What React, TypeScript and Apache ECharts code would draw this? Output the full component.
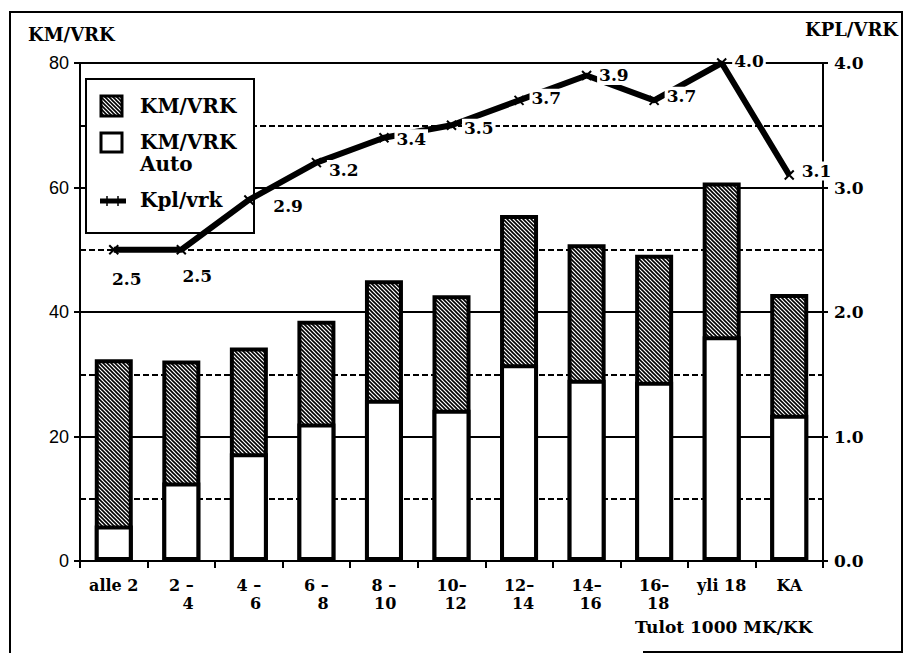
import React, { useEffect, useRef } from 'react';
import * as echarts from 'echarts';

// ---- data ----
const categories = ['alle 2', '2 –\n4', '4 –\n6', '6 –\n8', '8 –\n10', '10–\n12', '12–\n14', '14–\n16', '16–\n18', 'yli 18', 'KA'];
const kmVrkTotal = [32.4, 32.2, 34.3, 38.6, 45.1, 42.7, 55.6, 50.9, 49.2, 60.8, 42.9];
const kmVrkAuto = [5.7, 12.6, 17.3, 22.1, 25.9, 24.3, 31.6, 29.1, 28.8, 36.1, 23.5];
const kplVrk = [2.5, 2.5, 2.9, 3.2, 3.4, 3.5, 3.7, 3.9, 3.7, 4.0, 3.1];
const leftAxis = { min: 0, max: 80, interval: 20 };
const rightAxis = { min: 0, max: 4, interval: 1 };

const SERIF = 'DejaVu Serif';
const SANS = 'Liberation Sans';

function makeHatch(): HTMLCanvasElement {
  const s = 4;
  const c = document.createElement('canvas');
  c.width = s;
  c.height = s;
  const ctx = c.getContext('2d')!;
  ctx.fillStyle = '#fff';
  ctx.fillRect(0, 0, s, s);
  ctx.strokeStyle = '#000';
  ctx.lineWidth = 1.6;
  for (const k of [-s, 0, s]) {
    ctx.beginPath();
    ctx.moveTo(k - 1, -1);
    ctx.lineTo(k + s + 1, s + 1);
    ctx.stroke();
  }
  return c;
}

export default function App() {
  const ref = useRef<HTMLDivElement>(null);

  useEffect(() => {
    if (!ref.current) return;
    const chart = echarts.init(ref.current, undefined, { renderer: 'svg' });
    const hatchCanvas = makeHatch();
    const hatch: any = { image: hatchCanvas, repeat: 'repeat', imageWidth: 4, imageHeight: 4 };

    // label placement nudges for the line values (style only)
    const labelStyleFor = (i: number): any => {
      if (i === 0) return { position: 'bottom', distance: 14, offset: [13, 0] };
      if (i === 1) return { position: 'bottom', distance: 11, offset: [16, 0] };
      if (i === 2) return { position: 'right', distance: 5, offset: [12, 6] };
      const dy = [0, 0, 0, 7, 1, 3, -2, 0, -4, -2, -4][i];
      return { position: 'right', distance: 5, offset: [0, dy] };
    };
    const lineData = kplVrk.map((v, i) => ({ value: v, label: labelStyleFor(i) }));

    const textBase = { fontFamily: SERIF, fontWeight: 'bold', fill: '#000' } as any;
    const txt = (text: string, x: number, y: number, fontSize: number, align: string, z: number) => ({
      type: 'text', z, silent: true, x, y,
      style: { ...textBase, text, fontSize, align, verticalAlign: 'middle', textAlign: align, textVerticalAlign: 'middle' },
    });

    const option: any = {
      animation: false,
      backgroundColor: '#fff',
      grid: { left: 80, right: 81, top: 63, bottom: 93, containLabel: false },
      xAxis: {
        type: 'category',
        data: categories,
        boundaryGap: true,
        axisLine: { show: true, lineStyle: { color: '#000', width: 2 } },
        axisTick: { show: true, length: 7, lineStyle: { color: '#000', width: 2 } },
        axisLabel: {
          interval: 0,
          margin: 15,
          color: '#000',
          formatter: (v: string) => {
            const parts = v.split('\n');
            if (parts.length === 1) return `{a|${parts[0]}}`;
            return `{a|${parts[0]}}\n{b|${parts[1]}}`;
          },
          rich: {
            a: { fontFamily: SERIF, fontWeight: 'bold', fontSize: 16, color: '#000', lineHeight: 18 },
            b: { fontFamily: SERIF, fontWeight: 'bold', fontSize: 16, color: '#000', lineHeight: 18, align: 'right' },
          },
        },
        splitLine: { show: false },
      },
      yAxis: [
        {
          type: 'value',
          position: 'left',
          min: leftAxis.min,
          max: leftAxis.max,
          interval: leftAxis.interval,
          axisLine: { show: true, lineStyle: { color: '#000', width: 2 } },
          axisTick: { show: true, length: 6, lineStyle: { color: '#000', width: 2 } },
          axisLabel: { color: '#000', fontFamily: SANS, fontSize: 18, margin: 11 },
          splitLine: { show: true, lineStyle: { color: '#000', width: 2 } },
          minorTick: { show: false, splitNumber: 2 },
          minorSplitLine: { show: true, lineStyle: { color: '#000', width: 2, type: [6, 3] } },
        },
        {
          type: 'value',
          position: 'right',
          min: rightAxis.min,
          max: rightAxis.max,
          interval: rightAxis.interval,
          axisLine: { show: true, lineStyle: { color: '#000', width: 2 } },
          axisTick: { show: true, length: 5, lineStyle: { color: '#000', width: 2 } },
          axisLabel: {
            color: '#000',
            fontFamily: SERIF,
            fontWeight: 'bold',
            fontSize: 17,
            margin: 11,
            formatter: (v: number) => v.toFixed(1),
          },
          splitLine: { show: false },
        },
      ],
      series: [
        {
          name: 'KM/VRK',
          type: 'bar',
          data: kmVrkTotal,
          barWidth: 38,
          barGap: '-100%',
          z: 3,
          silent: true,
          itemStyle: { color: hatch, borderColor: '#000', borderWidth: 4 },
          emphasis: { disabled: true },
        },
        {
          name: 'KM/VRK Auto',
          type: 'bar',
          data: kmVrkAuto,
          barWidth: 38,
          barGap: '-100%',
          z: 4,
          silent: true,
          itemStyle: { color: '#fff', borderColor: '#000', borderWidth: 4 },
          emphasis: { disabled: true },
        },
        {
          name: 'Kpl/vrk',
          type: 'line',
          yAxisIndex: 1,
          data: lineData,
          z: 6,
          silent: true,
          symbol: 'path://M0,0L10,10M10,0L0,10',
          symbolSize: 9,
          showSymbol: true,
          itemStyle: { color: '#000', borderColor: '#000', borderWidth: 2 },
          lineStyle: { color: '#000', width: 6 },
          emphasis: { disabled: true },
          label: {
            show: true,
            position: 'right',
            distance: 5,
            formatter: (p: any) => Number(p.value).toFixed(1),
            fontFamily: SERIF,
            fontWeight: 'bold',
            fontSize: 17,
            color: '#000',
            backgroundColor: '#fff',
            padding: [1, 2],
          },
        },
      ],
      graphic: [
        // outer frame
        {
          type: 'polyline',
          z: 10,
          silent: true,
          shape: { points: [[643, 652], [902, 652], [902, 12], [10, 12], [10, 653]] },
          style: { stroke: '#000', lineWidth: 2, fill: null },
        },
        // axis titles
        txt('KM/VRK', 28, 34, 18, 'left', 10),
        txt('KPL/VRK', 898, 29, 18, 'right', 10),
        txt('Tulot 1000 MK/KK', 635, 627, 17, 'left', 10),
        // legend box
        {
          type: 'group',
          z: 5,
          silent: true,
          children: [
            { type: 'rect', z: 5, shape: { x: 86, y: 79, width: 168, height: 154 }, style: { fill: '#fff', stroke: '#000', lineWidth: 2 } },
            { type: 'rect', z: 5, shape: { x: 101, y: 96, width: 21, height: 20 }, style: { fill: hatch, stroke: '#000', lineWidth: 3 } },
            txt('KM/VRK', 140, 106, 20, 'left', 5),
            { type: 'rect', z: 5, shape: { x: 101, y: 133, width: 21, height: 19 }, style: { fill: '#fff', stroke: '#000', lineWidth: 3 } },
            txt('KM/VRK', 140, 142, 20, 'left', 5),
            txt('Auto', 140, 164, 20, 'left', 5),
            { type: 'line', z: 5, shape: { x1: 100, y1: 201, x2: 126, y2: 201 }, style: { stroke: '#000', lineWidth: 5 } },
            { type: 'line', z: 5, shape: { x1: 107, y1: 196, x2: 107, y2: 206 }, style: { stroke: '#000', lineWidth: 1.5 } },
            { type: 'line', z: 5, shape: { x1: 118, y1: 196, x2: 118, y2: 206 }, style: { stroke: '#000', lineWidth: 1.5 } },
            txt('Kpl/vrk', 140, 200, 20, 'left', 5),
          ],
        },
      ],
    };

    chart.setOption(option);
    return () => {
      chart.dispose();
    };
  }, []);

  return (
    <div
      ref={ref}
      style={{ position: 'absolute', left: 0, top: 0, width: 904, height: 654, background: '#fff' }}
    />
  );
}
